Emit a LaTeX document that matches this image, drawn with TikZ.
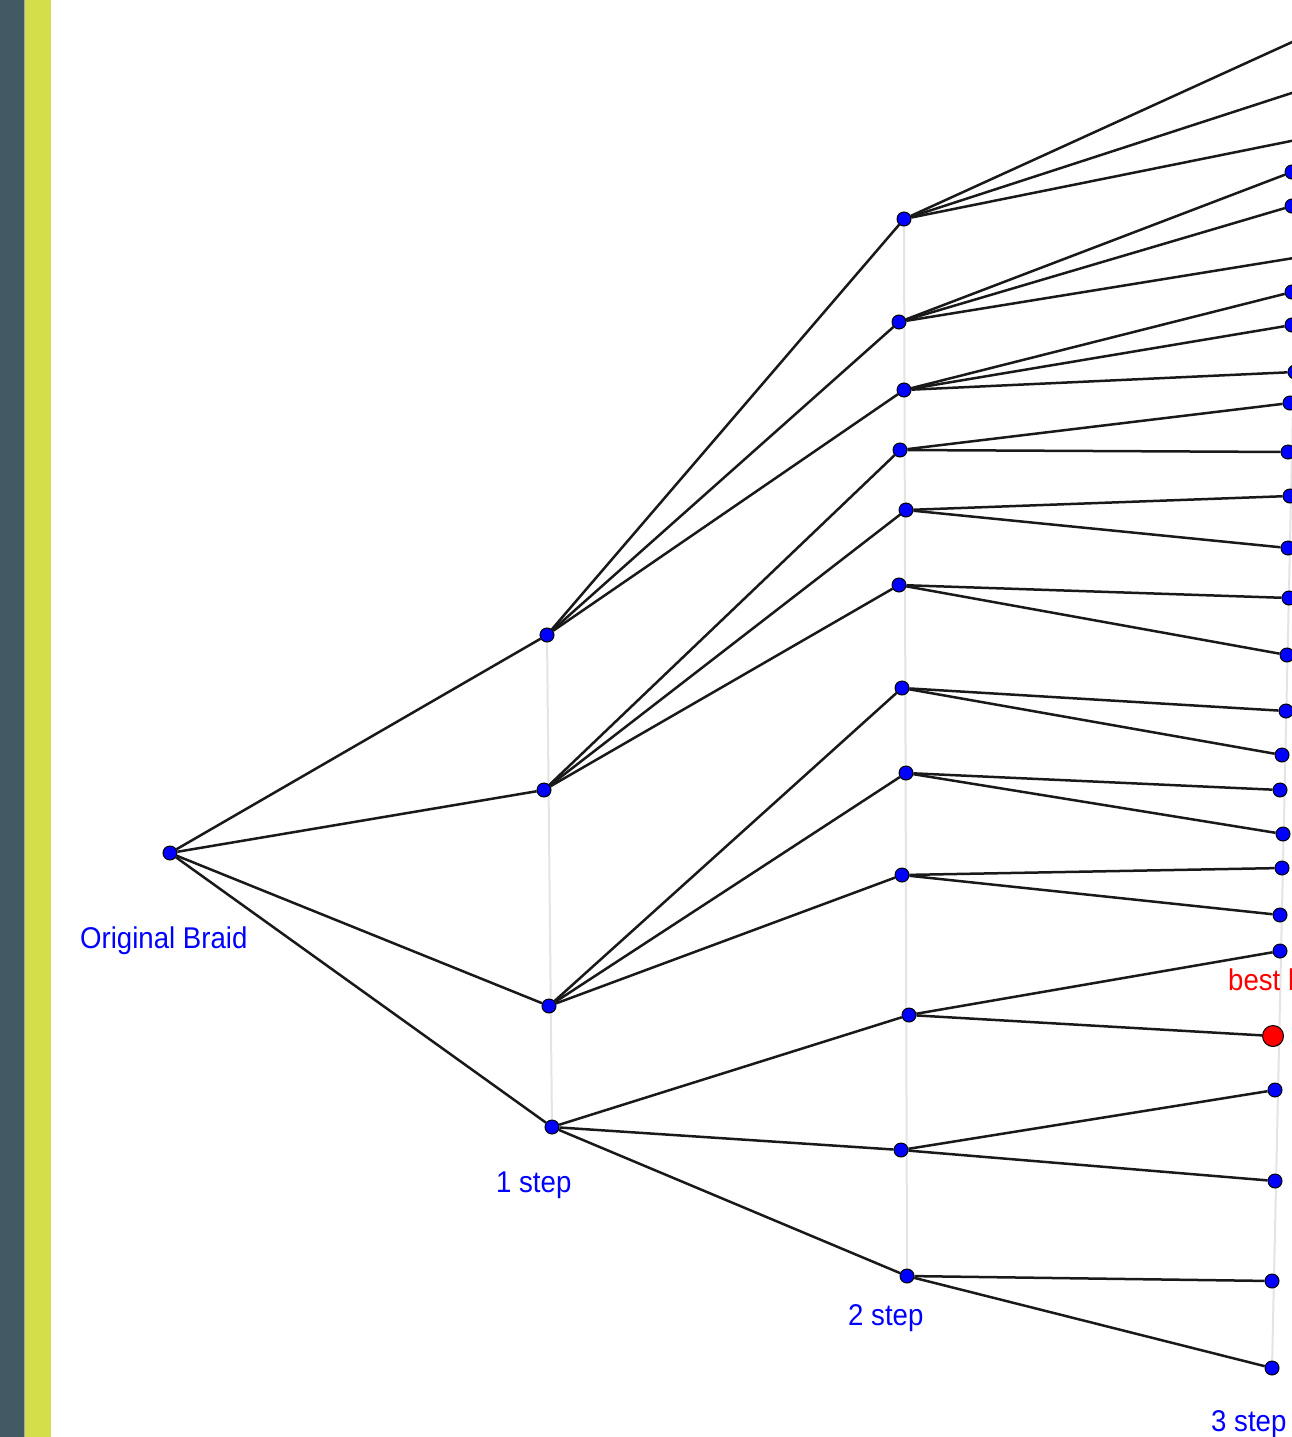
\documentclass[tikz,border=0pt]{standalone}
\usepackage{fontspec}
\usetikzlibrary{backgrounds}
\newfontfamily\labelfont[FakeStretch=0.92]{Liberation Sans}
\definecolor{slatebar}{RGB}{67,89,100}
\definecolor{limebar}{RGB}{211,222,74}
\definecolor{axisgray}{RGB}{228,228,228}
\begin{document}
\begin{tikzpicture}[x=1pt,y=-1pt,
  dot/.style={circle,draw=black,line width=1pt,fill=blue,inner sep=0pt,minimum size=14pt},
  bestdot/.style={dot,fill=red,minimum size=21pt},
  branch/.style={draw=black!90,line width=2.5pt},
  stepaxis/.style={draw=axisgray,line width=2pt},
  steplabel/.style={text=blue,font=\labelfont\fontsize{30}{30}\selectfont,anchor=base west,inner sep=0pt},
]
\useasboundingbox (0,0) rectangle (1292,1437);
\clip (0,0) rectangle (1292,1437);

% root
\node[dot] (r) at (170,853) {};

% first step
\node[dot] (a1) at (547,635) {};
\node[dot] (a2) at (544,790) {};
\node[dot] (a3) at (549,1006) {};
\node[dot] (a4) at (552,1127) {};

% second step
\node[dot] (b1) at (904,219) {};
\node[dot] (b2) at (899,322) {};
\node[dot] (b3) at (904,390) {};
\node[dot] (b4) at (900,450) {};
\node[dot] (b5) at (906,510) {};
\node[dot] (b6) at (899,585) {};
\node[dot] (b7) at (902,688) {};
\node[dot] (b8) at (906,773) {};
\node[dot] (b9) at (902,875) {};
\node[dot] (b10) at (909,1015) {};
\node[dot] (b11) at (901,1150) {};
\node[dot] (b12) at (907,1276) {};

% third step
\node[dot] (c1) at (1301,38) {};
\node[dot] (c2) at (1301,90) {};
\node[dot] (c3) at (1301,139) {};
\node[dot] (c4) at (1292,172) {};
\node[dot] (c5) at (1292,206) {};
\node[dot] (c6) at (1300,257) {};
\node[dot] (c7) at (1292,292) {};
\node[dot] (c8) at (1292,325) {};
\node[dot] (c9) at (1295,372) {};
\node[dot] (c10) at (1290,403) {};
\node[dot] (c11) at (1288,452) {};
\node[dot] (c12) at (1290,496) {};
\node[dot] (c13) at (1288,548) {};
\node[dot] (c14) at (1289,598) {};
\node[dot] (c15) at (1287,655) {};
\node[dot] (c16) at (1286,711) {};
\node[dot] (c17) at (1282,755) {};
\node[dot] (c18) at (1280,790) {};
\node[dot] (c19) at (1283,834) {};
\node[dot] (c20) at (1282,868) {};
\node[dot] (c21) at (1280,915) {};
\node[dot] (c22) at (1280,951) {};
\node[bestdot] (c23) at (1273,1036) {};
\node[dot] (c24) at (1275,1090) {};
\node[dot] (c25) at (1275,1181) {};
\node[dot] (c26) at (1272,1281) {};
\node[dot] (c27) at (1272,1368) {};

% labels
\node[steplabel] (l0) at (80,948) {Original Braid};
\node[steplabel] (l1) at (496,1192) {1 step};
\node[steplabel] (l2) at (848,1325) {2 step};
\node[steplabel] (l3) at (1211,1431) {3 step};
\node[steplabel,text=red] (lbest) at (1228,990) {best l};

% branches of the search tree
\foreach \p/\c in {r/a1,r/a2,r/a3,r/a4,
  a1/b1,a1/b2,a1/b3,a2/b4,a2/b5,a2/b6,a3/b7,a3/b8,a3/b9,a4/b10,a4/b11,a4/b12,
  b1/c1,b1/c2,b1/c3,b2/c4,b2/c5,b2/c6,b3/c7,b3/c8,b3/c9,
  b4/c10,b4/c11,b5/c12,b5/c13,b6/c14,b6/c15,b7/c16,b7/c17,b8/c18,b8/c19,
  b9/c20,b9/c21,b10/c22,b10/c23,b11/c24,b11/c25,b12/c26,b12/c27}
  \draw[branch] (\p) -- (\c);

\begin{scope}[on background layer]
  \clip (0,0) rectangle (1292,1437);
  % side bars
  \fill[slatebar] (0,0) rectangle (24,1437);
  \fill[black!35] (24,0) rectangle (25,1437);
  \fill[limebar] (25,0) rectangle (51,1437);
  % step axes
  \draw[stepaxis] (a1.center) -- (a4.center);
  \draw[stepaxis] (b1.center) -- (b12.center);
  \draw[stepaxis] (c1.center) -- (c27.center);
\end{scope}
\end{tikzpicture}
\end{document}
